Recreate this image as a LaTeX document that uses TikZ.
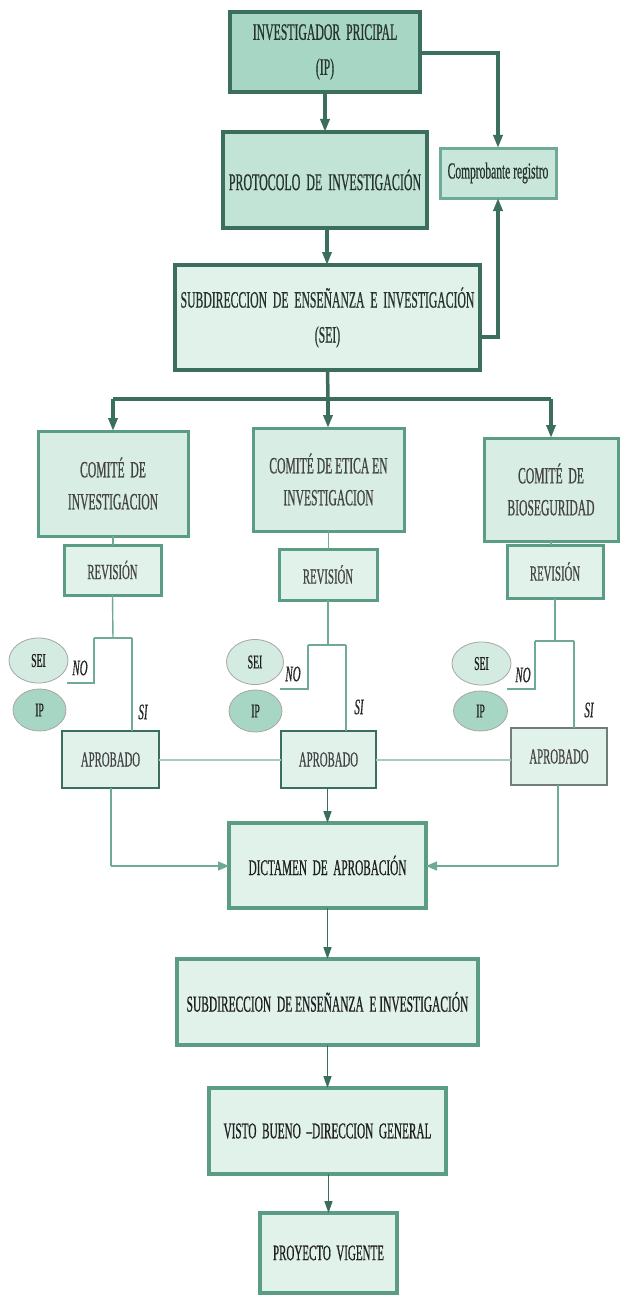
\documentclass[tikz,border=0pt]{standalone}
\usepackage{fontspec}
\setmainfont{Liberation Serif}
\newfontfamily\cf[FakeStretch=0.5,FakeBold=0.6]{Liberation Serif}
\usetikzlibrary{arrows.meta,shapes.geometric,calc}
\definecolor{dk}{HTML}{3B6E5C}
\definecolor{md}{HTML}{5A9C84}
\definecolor{lt}{HTML}{6EAA95}
\definecolor{pale}{HTML}{A9C9BD}
\definecolor{fIP}{HTML}{A8D6C5}
\definecolor{fPR}{HTML}{C2E4D7}
\definecolor{fCO}{HTML}{C8E7DA}
\definecolor{fLT}{HTML}{E1F2EB}
\definecolor{fCM}{HTML}{D8EEE5}
\definecolor{fSE}{HTML}{D3EBE1}
\definecolor{txd}{HTML}{26332F}
\definecolor{txg}{HTML}{444444}
\begin{document}
\begin{tikzpicture}[x=1pt,y=-1pt,
  bx/.style={draw, rectangle, inner sep=1pt, outer sep=0pt, align=center,
    font=\cf\fontsize{23.5}{35}\selectfont},
  topbox/.style={bx, draw=dk, line width=4pt, text=txd},
  combox/.style={bx, draw=md, line width=3pt, fill=fCM, text=txg,
    font=\cf\fontsize{23.2}{32}\selectfont},
  revbox/.style={bx, draw=md, line width=3pt, fill=fLT, text=txg,
    font=\cf\fontsize{21.5}{24}\selectfont},
  aprbox/.style={bx, draw=dk, line width=1.3pt, fill=fLT, text=txg,
    font=\cf\fontsize{21.5}{24}\selectfont},
  lowbox/.style={bx, draw=md, line width=3.5pt, fill=fLT, text=black!88,
    font=\cf\fontsize{22.5}{26}\selectfont},
  ell/.style={draw=gray!70, line width=0.8pt, ellipse, inner sep=0pt, text=black!88,
    font=\cf\fontsize{19.5}{22}\selectfont},
  thickarr/.style={draw=dk, line width=3.5pt, -{Triangle[length=13pt,width=9pt]}},
  thickln/.style={draw=dk, line width=3.5pt},
  thinln/.style={draw=lt, line width=1.4pt},
  thinarr/.style={draw=lt, line width=1.4pt, -{Triangle[length=11pt,width=9pt]}},
  midarr/.style={draw=dk, line width=1.6pt, -{Triangle[length=12pt,width=8pt]}},
  lab/.style={font=\cf\itshape\fontsize{22}{22}\selectfont, text=black!85, inner sep=0pt}
]
\useasboundingbox (0,0) rectangle (619,1295);
\fill[white] (0,0) rectangle (619,1295);

% top boxes
\node[topbox, fill=fIP, minimum width=190pt, minimum height=80pt] (ip) at (325,52)
  {INVESTIGADOR\ \ PRICIPAL\\(IP)};
\node[topbox, fill=fPR, minimum width=204pt, minimum height=96pt, font=\cf\fontsize{23.9}{26}\selectfont] (proto) at (325,180)
  {PROTOCOLO\ \ DE\ \ INVESTIGACIÓN};
\node[bx, draw=lt, line width=3pt, fill=fCO, text=txd, minimum width=116pt, minimum height=50pt, font=\cf\fontsize{23}{24}\selectfont] (comp) at (498,173)
  {Comprobante registro};
\node[topbox, fill=fLT, minimum width=305pt, minimum height=105pt, font=\cf\fontsize{23.4}{35}\selectfont] (sei) at (327.5,317.5)
  {SUBDIRECCION\ \ DE\ \ ENSEÑANZA\ \ E\ \ INVESTIGACIÓN\\(SEI)};

% committees
\node[combox, minimum width=150pt, minimum height=105pt] (c1) at (113,483.5) {COMITÉ\ \ DE\\INVESTIGACION};
\node[combox, minimum width=151pt, minimum height=103pt] (c2) at (328.5,479.5) {COMITÉ DE ETICA EN\\INVESTIGACION};
\node[combox, minimum width=134pt, minimum height=103pt] (c3) at (551,489.5) {COMITÉ\ \ DE\\BIOSEGURIDAD};

% revision
\node[revbox, minimum width=97pt, minimum height=50pt] (r1) at (112.5,570) {REVISIÓN};
\node[revbox, minimum width=98pt, minimum height=51pt] (r2) at (328,574.5) {REVISIÓN};
\node[revbox, minimum width=96pt, minimum height=53pt] (r3) at (555,571.5) {REVISIÓN};

% aprobado
\node[aprbox, minimum width=97pt, minimum height=57pt] (a1) at (110.5,759.5) {APROBADO};
\node[aprbox, minimum width=95pt, minimum height=57pt] (a2) at (328.5,759.5) {APROBADO};
\node[aprbox, draw=gray!80!dk, minimum width=96pt, minimum height=57pt] (a3) at (559,756.5) {APROBADO};

% ellipses
\node[ell, fill=fSE, minimum width=59pt, minimum height=45pt] (e1s) at (38.5,660.5) {SEI};
\node[ell, fill=fIP, minimum width=53pt, minimum height=42pt] (e1i) at (39.5,710) {IP};
\node[ell, fill=fSE, minimum width=57pt, minimum height=45pt] (e2s) at (255,662) {SEI};
\node[ell, fill=fIP, minimum width=53pt, minimum height=42pt] (e2i) at (255.5,711) {IP};
\node[ell, fill=fSE, minimum width=59pt, minimum height=43pt] (e3s) at (481.5,663.5) {SEI};
\node[ell, fill=fIP, minimum width=54pt, minimum height=40pt] (e3i) at (480.5,711) {IP};

% lower boxes
\node[lowbox, minimum width=197pt, minimum height=85pt] (dict) at (327.5,865.5) {DICTAMEN\ \ DE\ \ APROBACIÓN};
\node[lowbox, minimum width=301pt, minimum height=86pt, font=\cf\fontsize{22.9}{26}\selectfont] (sub2) at (327.5,1002) {SUBDIRECCION\ \ DE ENSEÑANZA\ \ E INVESTIGACIÓN};
\node[lowbox, minimum width=237pt, minimum height=86pt] (visto) at (327.5,1131) {VISTO\ \ BUENO\ \ –DIRECCION\ \ GENERAL};
\node[lowbox, minimum width=137pt, minimum height=80pt, font=\cf\fontsize{22}{26}\selectfont] (proy) at (328.5,1253) {PROYECTO\ \ VIGENTE};

% top connectors
\draw[thickarr] (ip.south) -- (proto.north);
\draw[thickarr] ([yshift=-1pt]ip.east) -| (comp.north);
\draw[thickarr] ([xshift=2pt]proto.south) -- ([xshift=2pt]proto.south |- sei.north);
\draw[thickarr] ([yshift=-19.5pt]sei.east) -| (comp.south);

% bus to committees
\coordinate (bus) at (328,399);
\draw[thickln] (sei.south) -- (bus);
\draw[thickln] (c1.north |- bus) -- (c3.north |- bus);
\draw[thickarr] (c1.north |- bus) -- (c1.north);
\draw[thickarr] (bus) -- (bus |- c2.north);
\draw[thickarr] (c3.north |- bus) -- (c3.north);

% committee to revision
\draw[thinln] (c1.south) -- (c1.south |- r1.north);
\draw[thinln] (c2.south) -- (c2.south |- r2.north);
\draw[thinln] (c3.south) -- (c3.south |- r3.north);

% branches column 1
\coordinate (k1) at (113,638);
\coordinate (n1a) at (94,638);
\coordinate (n1b) at (132,638);
\coordinate (n1c) at (94,683);
\coordinate (n1d) at (67,683);
\draw[thinln] (r1.south) -- (k1);
\draw[thinln] (n1a) -- (n1b);
\draw[thinln] (n1a) -- (n1c) -- (n1d);
\draw[thinln] (n1b) -- (n1b |- a1.north);
% column 2
\coordinate (k2) at (328,645);
\coordinate (n2a) at (308,645);
\coordinate (n2b) at (346,645);
\coordinate (n2c) at (308,689);
\coordinate (n2d) at (280,689);
\draw[thinln] (r2.south) -- (k2);
\draw[thinln] (n2a) -- (n2b);
\draw[thinln] (n2a) -- (n2c) -- (n2d);
\draw[thinln] (n2b) -- (n2b |- a2.north);
% column 3
\coordinate (k3) at (555,641);
\coordinate (n3a) at (535,641);
\coordinate (n3b) at (574,641);
\coordinate (n3c) at (535,689);
\coordinate (n3d) at (507,689);
\draw[thinln] (r3.south) -- (k3);
\draw[thinln] (n3a) -- (n3b);
\draw[thinln] (n3a) -- (n3c) -- (n3d);
\draw[thinln] (n3b) -- (n3b |- a3.north);

% labels
\node[lab] (no1) at (80,668) {NO};
\node[lab] (no2) at (293,674) {NO};
\node[lab] (no3) at (523,675) {NO};
\node[lab] (si1) at (143,712) {SI};
\node[lab] (si2) at (359,707) {SI};
\node[lab] (si3) at (589,710) {SI};

% aprobado links
\draw[draw=pale, line width=2.5pt] (a1.east |- 0,760) -- (a2.west |- 0,760);
\draw[draw=pale, line width=2.5pt] (a2.east |- 0,760) -- (a3.west |- 0,760);

% to dictamen
\coordinate (d1) at (111,866);
\coordinate (d3) at (558,866);
\draw[thinln] (a1.south -| d1) -- (d1);
\draw[thinarr] (d1) -- (d1 -| dict.west);
\draw[thinln] (a3.south -| d3) -- (d3);
\draw[thinarr] (d3) -- (d3 -| dict.east);
\draw[midarr] (a2.south -| dict.north) -- (dict.north);

% lower chain
\draw[midarr] (dict.south) -- (sub2.north);
\draw[midarr] (sub2.south) -- (visto.north);
\draw[midarr] ([xshift=1pt]visto.south) -- ([xshift=1pt]visto.south |- proy.north);
\end{tikzpicture}
\end{document}
